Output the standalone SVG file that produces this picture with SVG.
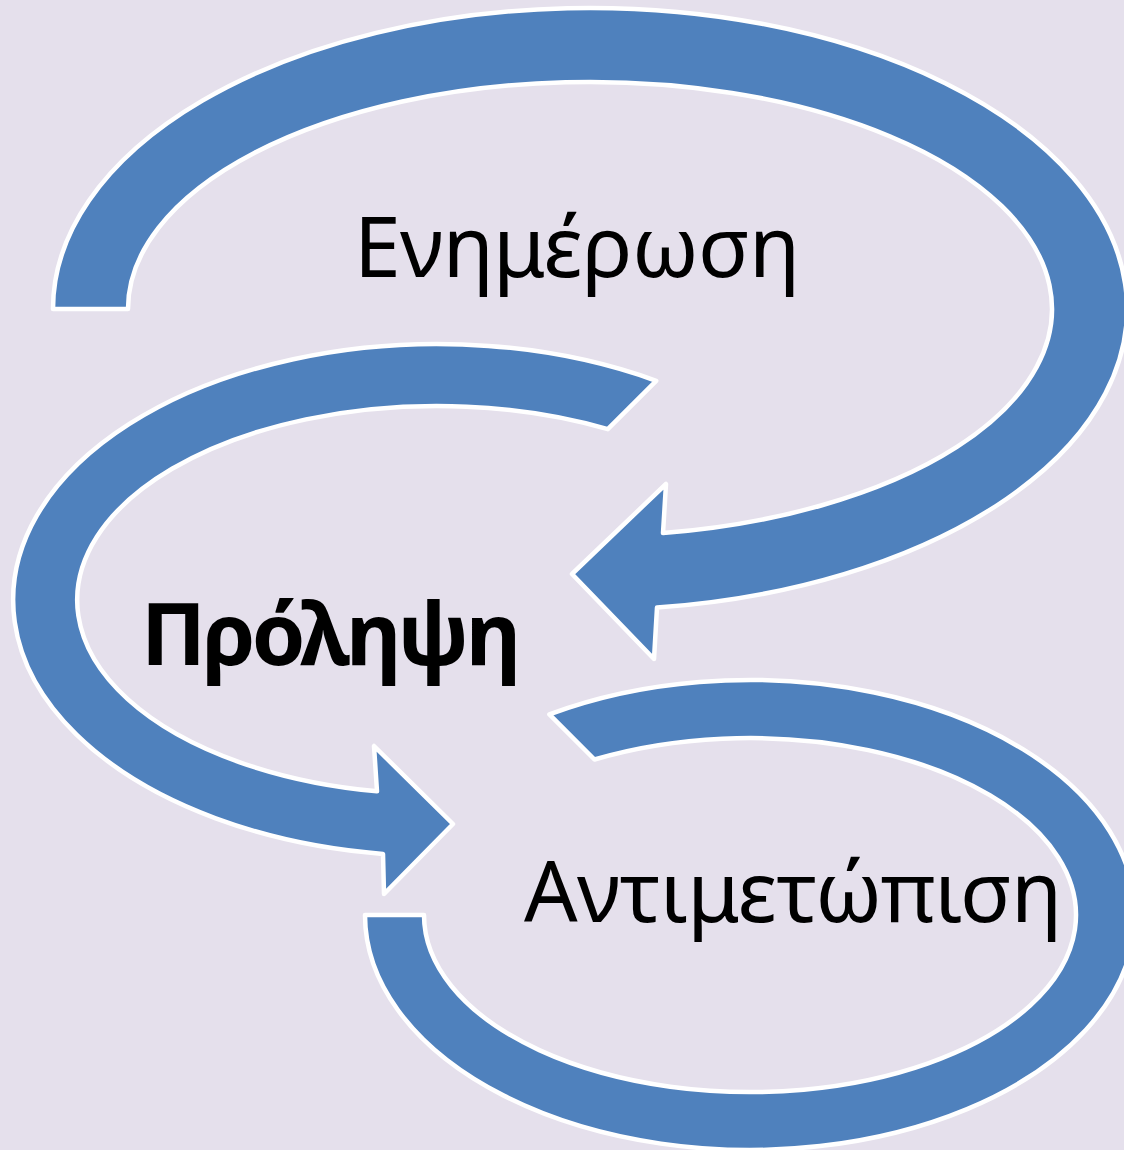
<svg xmlns="http://www.w3.org/2000/svg" width="1124" height="1150" viewBox="0 0 1124 1150">
<style>
.arr{fill:#4F81BD;stroke:#FFFFFF;stroke-width:4.5;stroke-linejoin:round}
.t{font-family:"Noto Sans","Open Sans",sans-serif;font-size:84px;fill:#000}
.b{font-weight:bold;font-size:86px}
</style>
<rect x="0" y="0" width="1124" height="1150" fill="#E5E0EC"/>
<g id="connectors">
<path id="arrow-top" class="arr" d="M53,309 A537,301 0 1 1 657,607.6 L654,659 L572,574 L666,484 L663,533.1 A462,227 0 1 0 128,309 Z"/>
<path id="arrow-mid" class="arr" d="M656.2,380.8 A424,256 0 1 0 383,853.9 L384,894 L453,824 L374,746 L377,791.3 A360,194 0 1 1 607.8,429.2 Z"/>
<path id="arrow-bot" class="arr" d="M549.4,714.4 A385,235 0 1 1 365,915 L424,915 A326,177 0 1 0 594.5,759.5 Z"/>
</g>
<g id="node-enimerosi"><text class="t" x="354" y="277" textLength="446">Ενημέρωση</text></g>
<g id="node-prolipsi"><text class="t b" x="141" y="665" textLength="380">Πρόληψη</text></g>
<g id="node-antimetopisi"><text class="t" x="524" y="922" textLength="538">Αντιμετώπιση</text></g>
</svg>
